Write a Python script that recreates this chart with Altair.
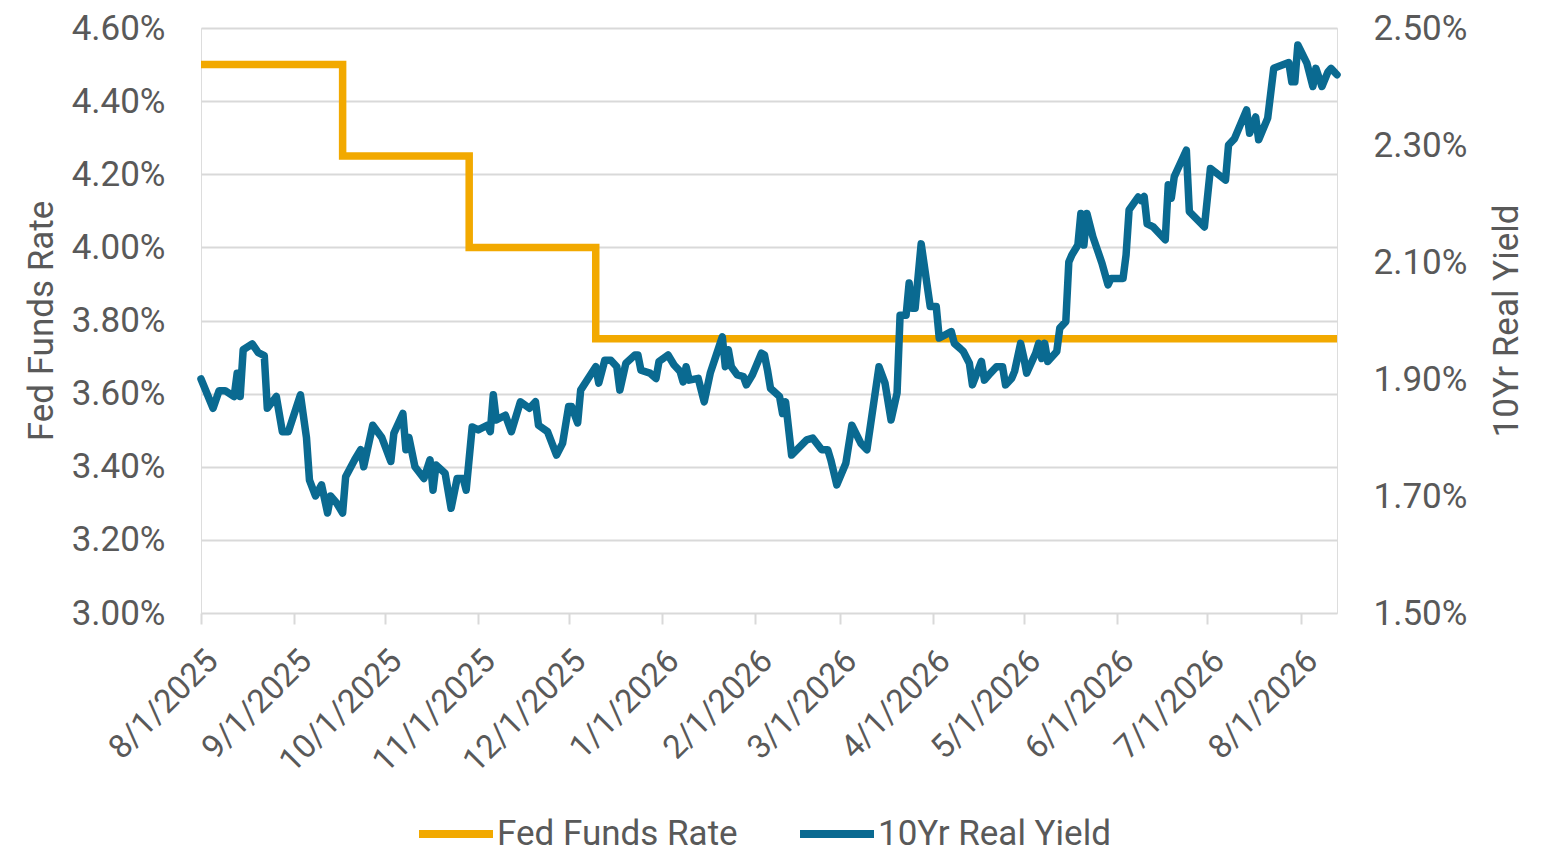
import altair as alt
import pandas as pd

# ---------------- data ----------------
fed_dates = ["2025-08-01", "2025-09-17", "2025-10-29", "2025-12-10", "2026-08-13"]
fed_values = [4.50, 4.25, 4.00, 3.75, 3.75]

ry_dates = [
    "2025-08-01", "2025-08-05", "2025-08-07", "2025-08-09", "2025-08-12", "2025-08-13",
    "2025-08-14", "2025-08-15", "2025-08-18", "2025-08-20", "2025-08-22", "2025-08-23",
    "2025-08-26", "2025-08-28", "2025-08-30", "2025-09-03", "2025-09-05", "2025-09-06",
    "2025-09-08", "2025-09-10", "2025-09-12", "2025-09-13", "2025-09-15", "2025-09-17",
    "2025-09-18", "2025-09-21", "2025-09-23", "2025-09-24", "2025-09-27", "2025-09-30",
    "2025-10-03", "2025-10-04", "2025-10-07", "2025-10-08", "2025-10-09", "2025-10-11",
    "2025-10-14", "2025-10-16", "2025-10-17", "2025-10-18", "2025-10-21", "2025-10-23",
    "2025-10-25", "2025-10-27", "2025-10-28", "2025-10-30", "2025-11-01", "2025-11-04",
    "2025-11-05", "2025-11-06", "2025-11-07", "2025-11-10", "2025-11-12", "2025-11-15",
    "2025-11-18", "2025-11-20", "2025-11-21", "2025-11-24", "2025-11-27", "2025-11-29",
    "2025-12-01", "2025-12-02", "2025-12-04", "2025-12-05", "2025-12-10", "2025-12-11",
    "2025-12-13", "2025-12-15", "2025-12-17", "2025-12-18", "2025-12-20", "2025-12-23",
    "2025-12-24", "2025-12-25", "2025-12-28", "2025-12-30", "2025-12-31", "2026-01-03",
    "2026-01-05", "2026-01-07", "2026-01-08", "2026-01-09", "2026-01-10", "2026-01-13",
    "2026-01-15", "2026-01-17", "2026-01-19", "2026-01-21", "2026-01-22", "2026-01-23",
    "2026-01-24", "2026-01-26", "2026-01-28", "2026-01-29", "2026-01-31", "2026-02-03",
    "2026-02-04", "2026-02-05", "2026-02-06", "2026-02-09", "2026-02-10", "2026-02-11",
    "2026-02-13", "2026-02-18", "2026-02-20", "2026-02-23", "2026-02-25", "2026-02-26",
    "2026-02-28", "2026-03-03", "2026-03-05", "2026-03-08", "2026-03-10", "2026-03-14",
    "2026-03-16", "2026-03-18", "2026-03-20", "2026-03-21", "2026-03-23", "2026-03-24",
    "2026-03-25", "2026-03-26", "2026-03-28", "2026-03-31", "2026-04-02", "2026-04-03",
    "2026-04-07", "2026-04-08", "2026-04-10", "2026-04-11", "2026-04-13", "2026-04-14",
    "2026-04-17", "2026-04-18", "2026-04-20", "2026-04-22", "2026-04-24", "2026-04-25",
    "2026-04-27", "2026-04-28", "2026-04-30", "2026-05-01", "2026-05-02", "2026-05-05",
    "2026-05-06", "2026-05-07", "2026-05-08", "2026-05-09", "2026-05-12", "2026-05-13",
    "2026-05-15", "2026-05-16", "2026-05-17", "2026-05-19", "2026-05-20", "2026-05-21",
    "2026-05-22", "2026-05-24", "2026-05-27", "2026-05-29", "2026-05-30", "2026-06-03",
    "2026-06-04", "2026-06-05", "2026-06-08", "2026-06-09", "2026-06-10", "2026-06-11",
    "2026-06-13", "2026-06-17", "2026-06-18", "2026-06-19", "2026-06-20", "2026-06-24",
    "2026-06-25", "2026-06-30", "2026-07-02", "2026-07-07", "2026-07-08", "2026-07-10",
    "2026-07-14", "2026-07-15", "2026-07-17", "2026-07-18", "2026-07-21", "2026-07-23",
    "2026-07-28", "2026-07-29", "2026-07-30", "2026-07-31", "2026-08-03", "2026-08-05",
    "2026-08-06", "2026-08-08", "2026-08-10", "2026-08-11", "2026-08-13",
]
ry_values = [
    1.900, 1.850, 1.880, 1.880, 1.870, 1.910,
    1.870, 1.950, 1.960, 1.945, 1.940, 1.850,
    1.870, 1.810, 1.810, 1.873, 1.800, 1.727,
    1.700, 1.719, 1.671, 1.700, 1.688, 1.671,
    1.733, 1.762, 1.779, 1.750, 1.821, 1.800,
    1.759, 1.807, 1.841, 1.779, 1.800, 1.750,
    1.730, 1.762, 1.710, 1.753, 1.739, 1.679,
    1.730, 1.730, 1.710, 1.818, 1.813, 1.821,
    1.810, 1.873, 1.830, 1.838, 1.810, 1.861,
    1.850, 1.861, 1.821, 1.810, 1.770, 1.790,
    1.853, 1.853, 1.825, 1.881, 1.921, 1.893,
    1.932, 1.932, 1.921, 1.881, 1.927, 1.941,
    1.941, 1.915, 1.910, 1.901, 1.930, 1.941,
    1.924, 1.913, 1.895, 1.921, 1.898, 1.901,
    1.861, 1.910, 1.941, 1.972, 1.921, 1.950,
    1.921, 1.907, 1.904, 1.890, 1.907, 1.944,
    1.941, 1.915, 1.884, 1.870, 1.841, 1.861,
    1.770, 1.796, 1.799, 1.779, 1.779, 1.762,
    1.719, 1.756, 1.821, 1.790, 1.779, 1.921,
    1.893, 1.830, 1.876, 2.009, 2.009, 2.064,
    2.021, 2.021, 2.131, 2.024, 2.024, 1.970,
    1.981, 1.961, 1.952, 1.947, 1.927, 1.890,
    1.930, 1.898, 1.910, 1.921, 1.921, 1.890,
    1.901, 1.913, 1.961, 1.938, 1.910, 1.944,
    1.961, 1.935, 1.961, 1.930, 1.947, 1.987,
    1.998, 2.100, 2.112, 2.129, 2.183, 2.129,
    2.183, 2.143, 2.098, 2.061, 2.072, 2.072,
    2.112, 2.189, 2.211, 2.205, 2.212, 2.165,
    2.160, 2.138, 2.232, 2.209, 2.246, 2.291,
    2.186, 2.160, 2.260, 2.240, 2.300, 2.311,
    2.360, 2.320, 2.348, 2.309, 2.346, 2.431,
    2.441, 2.408, 2.408, 2.471, 2.440, 2.400,
    2.431, 2.400, 2.425, 2.431, 2.420,
]

series_names = ["Fed Funds Rate", "10Yr Real Yield"]
series_colors = ["#F2A900", "#0A6A91"]

left_ticks = [3.0, 3.2, 3.4, 3.6, 3.8, 4.0, 4.2, 4.4, 4.6]
right_ticks = [1.5, 1.7, 1.9, 2.1, 2.3, 2.5]
x_tick_dates = [(2025, 8), (2025, 9), (2025, 10), (2025, 11), (2025, 12), (2026, 1),
                (2026, 2), (2026, 3), (2026, 4), (2026, 5), (2026, 6), (2026, 7), (2026, 8)]

# ---------------- tables ----------------
fed_df = pd.DataFrame({"date": [d + "T00:00:00" for d in fed_dates],
                       "value": fed_values, "series": series_names[0]})
ry_df = pd.DataFrame({"date": [d + "T00:00:00" for d in ry_dates],
                      "value": ry_values, "series": series_names[1]})

TEXT = "#595959"
GRID = "#D9D9D9"
FONT = "Roboto"
FS = 35

x_enc = alt.X(
    "date:T",
    title=None,
    scale=alt.Scale(domain=[alt.DateTime(year=2025, month=8, date=1),
                            alt.DateTime(year=2026, month=8, date=13)]),
    axis=alt.Axis(
        values=[alt.DateTime(year=y, month=m, date=1) for y, m in x_tick_dates],
        format="%-m/%-d/%Y",
        labelAngle=-45,
        labelFontSize=33,
        labelColor=TEXT,
        labelFont=FONT,
        labelPadding=20,
        domain=False,
        ticks=True,
        tickSize=11,
        tickWidth=2,
        tickColor=GRID,
        grid=False,
        labelFlush=False,
        labelOverlap=False,
    ),
)

color_enc = alt.Color(
    "series:N",
    scale=alt.Scale(domain=series_names, range=series_colors),
    legend=alt.Legend(
        title=None,
        orient="none",
        legendX=214,
        legendY=765,
        direction="horizontal",
        symbolType="stroke",
        symbolStrokeWidth=8,
        symbolSize=5476,
        labelFontSize=FS,
        labelColor=TEXT,
        labelFont=FONT,
        labelLimit=500,
        columnPadding=46,
        labelOffset=0,
    ),
)

fed = alt.Chart(fed_df).mark_line(
    interpolate="step-after", strokeWidth=7.5, strokeJoin="miter"
).encode(
    x=x_enc,
    y=alt.Y(
        "value:Q",
        title="Fed Funds Rate",
        scale=alt.Scale(domain=[3.0, 4.6], nice=False, zero=False),
        axis=alt.Axis(
            orient="left",
            values=left_ticks,
            labelExpr="format(datum.value, '.2f') + '%'",
            labelFontSize=FS,
            labelColor=TEXT,
            labelFont=FONT,
            labelPadding=36,
            titleFontSize=FS,
            titleColor=TEXT,
            titleFont=FONT,
            titleFontWeight="normal",
            titlePadding=12,
            domain=False,
            ticks=False,
            grid=True,
            gridColor=GRID,
            gridWidth=2,
        ),
    ),
    color=color_enc,
)

ry = alt.Chart(ry_df).mark_line(strokeWidth=7.5, strokeJoin="round", strokeCap="round").encode(
    x=x_enc,
    y=alt.Y(
        "value:Q",
        title="10Yr Real Yield",
        scale=alt.Scale(domain=[1.5, 2.5], nice=False, zero=False),
        axis=alt.Axis(
            orient="right",
            values=right_ticks,
            labelExpr="format(datum.value, '.2f') + '%'",
            labelFontSize=FS,
            labelColor=TEXT,
            labelFont=FONT,
            labelPadding=36,
            titleFontSize=FS,
            titleColor=TEXT,
            titleFont=FONT,
            titleFontWeight="normal",
            titleAngle=270,
            titlePadding=58,
            domain=False,
            ticks=False,
            grid=False,
        ),
    ),
    color=color_enc,
)

chart = (
    alt.layer(fed, ry)
    .resolve_scale(y="independent")
    .properties(
        width=1136,
        height=585,
        autosize=alt.AutoSizeParams(type="none"),
        padding={"left": 193, "top": 20, "right": 190, "bottom": 242},
    )
    .configure_view(stroke=None)
    .configure(font=FONT)
)

chart.save("out.html", embed_options={"renderer": "svg", "actions": False})
